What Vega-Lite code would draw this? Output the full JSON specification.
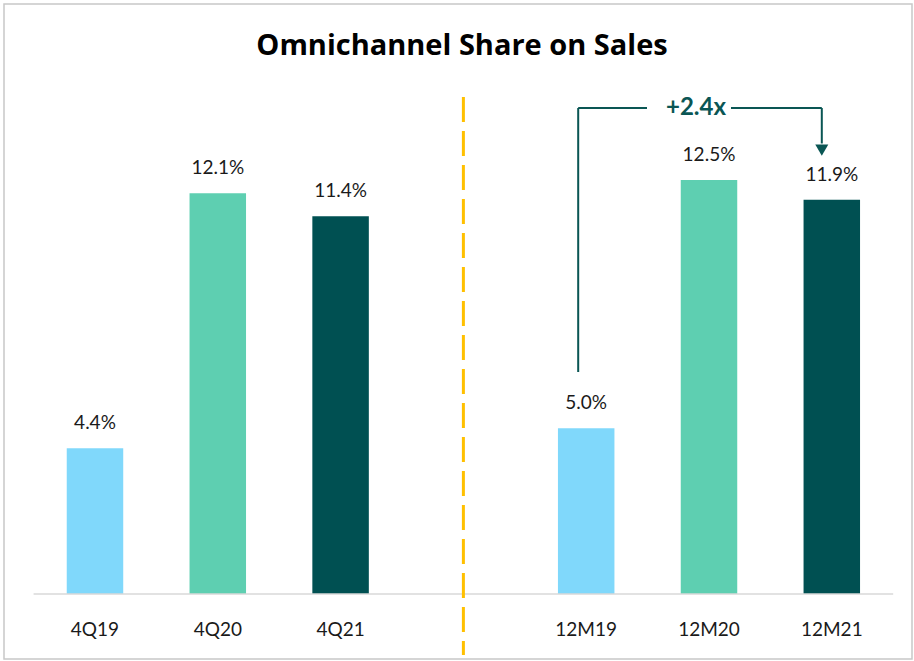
{
  "$schema": "https://vega.github.io/schema/vega-lite/v6.json",
  "width": 908,
  "height": 655,
  "autosize": {"type": "none"},
  "padding": {"left": 4, "top": 4, "right": 2, "bottom": 2},
  "background": "white",
  "config": {"view": {"stroke": "#c8c8c8", "strokeWidth": 1.5}, "font": "Lato"},
  "title": {"text": "Omnichannel Share on Sales", "fontSize": 29, "fontWeight": "bold", "font": "Open Sans", "color": "#000000", "anchor": "middle", "offset": -57, "dx": 4},
  "datasets": {
    "bars": [
      {"cat": "4Q19", "value": 4.4, "year": "2019", "label": "4.4%"},
      {"cat": "4Q20", "value": 12.1, "year": "2020", "label": "12.1%"},
      {"cat": "4Q21", "value": 11.4, "year": "2021", "label": "11.4%"},
      {"cat": "12M19", "value": 5.0, "year": "2019", "label": "5.0%"},
      {"cat": "12M20", "value": 12.5, "year": "2020", "label": "12.5%"},
      {"cat": "12M21", "value": 11.9, "year": "2021", "label": "11.9%"}
    ],
    "baseline": [{"cat": "4Q19", "cat2": "12M21"}],
    "divider": [{"cat": "sep"}],
    "bracket_left": [{"cat": "12M19"}],
    "bracket_top_left": [{"cat": "12M19", "cat2": "12M20"}],
    "bracket_top_right": [{"cat": "12M20", "cat2": "12M21"}],
    "bracket_right": [{"cat": "12M21"}],
    "growth": [{"cat": "12M20", "text": "+2.4x"}]
  },
  "data": {"name": "bars"},
  "encoding": {
    "x": {"field": "cat", "type": "nominal", "axis": null,
      "scale": {"domain": ["4Q19", "4Q20", "4Q21", "sep", "12M19", "12M20", "12M21"], "paddingInner": 0.54, "paddingOuter": 0.467, "align": 0.547}}
  },
  "layer": [
    {
      "mark": {"type": "bar"},
      "encoding": {
        "y": {"field": "value", "type": "quantitative", "axis": null,
          "scale": {"domain": [-1.962, 17.81], "nice": false, "zero": false}},
        "y2": {"datum": 0},
        "color": {"field": "year", "type": "nominal", "legend": null,
          "scale": {"domain": ["2019", "2020", "2021"], "range": ["#80d8fb", "#5ecfb1", "#005052"]}}
      }
    },
    {
      "mark": {"type": "text", "dy": -19, "baseline": "alphabetic", "fontSize": 19, "color": "#1a1a1a"},
      "encoding": {"y": {"field": "value", "type": "quantitative"}, "text": {"field": "label"}}
    },
    {
      "mark": {"type": "text", "baseline": "middle", "fontSize": 19, "color": "#1a1a1a"},
      "encoding": {"y": {"datum": -1.087}, "text": {"field": "cat"}}
    },
    {
      "data": {"name": "baseline"},
      "mark": {"type": "rule", "color": "#d9d9d9", "strokeWidth": 1.5, "xOffset": -61.4, "x2Offset": 61.4},
      "encoding": {"x2": {"field": "cat2"}, "y": {"datum": 0}}
    },
    {
      "data": {"name": "divider"},
      "mark": {"type": "rule", "color": "#ffc000", "strokeWidth": 3, "strokeDash": [25, 9]},
      "encoding": {"y": {"datum": 15.0}, "y2": {"datum": -1.84}}
    },
    {
      "data": {"name": "bracket_left"},
      "mark": {"type": "rule", "color": "#0a5654", "strokeWidth": 2, "xOffset": -8},
      "encoding": {"y": {"datum": 14.67}, "y2": {"datum": 6.7}}
    },
    {
      "data": {"name": "bracket_top_left"},
      "mark": {"type": "rule", "color": "#0a5654", "strokeWidth": 2, "xOffset": -8, "x2Offset": -62},
      "encoding": {"x2": {"field": "cat2"}, "y": {"datum": 14.67}}
    },
    {
      "data": {"name": "bracket_top_right"},
      "mark": {"type": "rule", "color": "#0a5654", "strokeWidth": 2, "xOffset": 22, "x2Offset": -10},
      "encoding": {"x2": {"field": "cat2"}, "y": {"datum": 14.67}}
    },
    {
      "data": {"name": "bracket_right"},
      "mark": {"type": "rule", "color": "#0a5654", "strokeWidth": 2, "xOffset": -10},
      "encoding": {"y": {"datum": 14.67}, "y2": {"datum": 13.6}}
    },
    {
      "data": {"name": "bracket_right"},
      "mark": {"type": "point", "shape": "triangle-down", "filled": true, "size": 170, "color": "#0a5654", "opacity": 1, "xOffset": -10},
      "encoding": {"y": {"datum": 13.4}}
    },
    {
      "data": {"name": "growth"},
      "mark": {"type": "text", "dx": -13, "baseline": "middle", "fontSize": 24, "fontWeight": "bold", "color": "#0a5654"},
      "encoding": {"y": {"datum": 14.67}, "text": {"field": "text"}}
    }
  ]
}
